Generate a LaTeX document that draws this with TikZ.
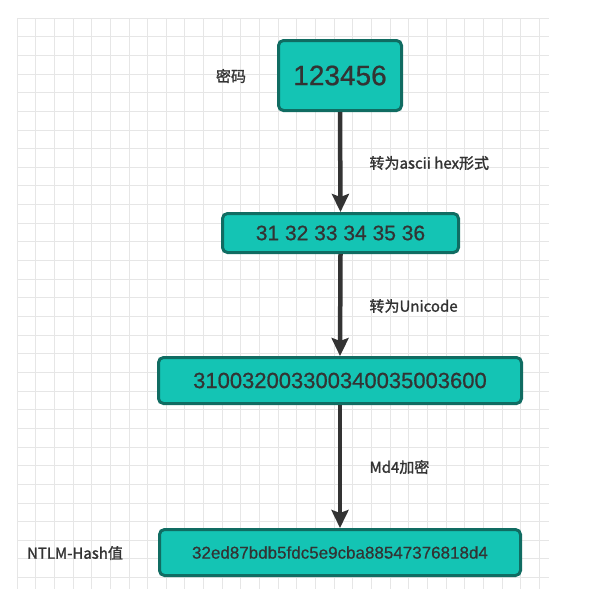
\documentclass[tikz,border=0pt]{standalone}
\usepackage{fontspec}
\setmainfont{Liberation Sans}
\newfontfamily\boxfont[FakeBold=0.7]{Liberation Sans}
\newfontfamily\cjk[FakeBold=1.5]{Noto Sans CJK SC}
\usetikzlibrary{arrows.meta}

\definecolor{gridline}{RGB}{230,230,230}
\definecolor{boxfill}{RGB}{20,196,180}
\definecolor{boxline}{RGB}{16,108,98}
\definecolor{inkgray}{RGB}{51,51,51}

\tikzset{
  stepbox/.style={draw=boxline, fill=boxfill, line width=3pt,
    rounded corners=5pt, text=inkgray, inner sep=0pt},
  flow/.style={draw=inkgray, line width=4.5pt,
    -{Stealth[length=18pt,width=17pt,inset=3pt]}},
  note/.style={text=inkgray, font=\cjk\fontsize{15}{18}\selectfont}
}

\begin{document}
\begin{tikzpicture}[x=1pt,y=-1pt]
     \useasboundingbox (0,0) rectangle (596,589);
     % background grid
     \begin{scope}
       \clip (17,18) rectangle (549,589);
       \foreach \i in {0,...,28}
         \draw[gridline, line width=0.8pt] (17+18.65*\i,18) -- (17+18.65*\i,589);
       \foreach \i in {0,...,31}
         \draw[gridline, line width=0.8pt] (17,18+18.65*\i) -- (549,18+18.65*\i);
     \end{scope}

     % the four stages
     \node[stepbox, minimum width=123pt, minimum height=70pt,
           font=\boxfont\fontsize{28}{32}\selectfont] (pwd) at (340,75.5) {123456};
     \node[stepbox, minimum width=236pt, minimum height=39pt,
           font=\boxfont\fontsize{21}{24}\selectfont] (hex) at (340.5,233) {31 32 33 34 35 36};
     \node[stepbox, minimum width=363pt, minimum height=46pt,
           font=\boxfont\fontsize{22}{25}\selectfont] (uni) at (340,380.5) {310032003300340035003600};
     \node[stepbox, minimum width=361pt, minimum height=46pt,
           font=\boxfont\fontsize{17}{20}\selectfont] (hash) at (340,552.5) {32ed87bdb5fdc5e9cba88547376818d4};

     % arrows between stages
     \draw[flow] (pwd.south) -- (hex.north);
     \draw[flow] (hex.south) -- (uni.north);
     \draw[flow] (uni.south) -- (hash.north);

     % side labels
     \node[note] (pwdlabel) at (231,76) {密码};
     \node[note, anchor=west] (hexlabel) at (366,163) {转为ascii hex形式};
     \node[note, anchor=west] (unilabel) at (366,306) {转为Unicode};
     \node[note, anchor=west] (md4label) at (366,467) {Md4加密};
     \node[note] (hashlabel) at (75,553) {NTLM-Hash值};
\end{tikzpicture}
\end{document}
